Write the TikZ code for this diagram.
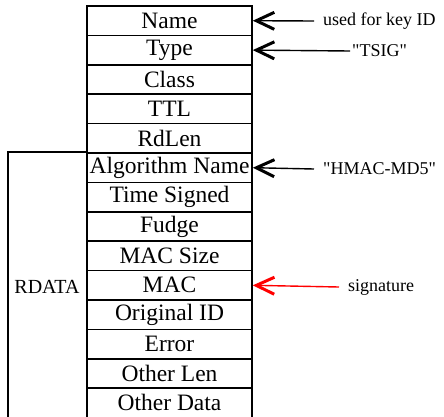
\documentclass[tikz,border=0pt]{standalone}
\usepackage{fontspec}
\setmainfont{Liberation Serif}
\usetikzlibrary{arrows.meta}
\tikzset{
    node distance=29.4pt, % height of one field row
    }

\begin{document}
\begin{tikzpicture}[x=1pt,y=1pt,
fieldnode/.style={rectangle, draw=black, line width=1.6pt, minimum width=165pt, minimum height=29.4pt, inner sep=0pt, font=\fontsize{23.5}{25}\selectfont},
notenode/.style={anchor=west, inner xsep=9pt, inner ysep=0pt, font=\fontsize{18}{20}\selectfont},
pointer/.style={line width=1.4pt, {Straight Barb[length=18pt,width=17pt,line width=3pt]}-},
]
\useasboundingbox (0,0) rectangle (444,-416);

% the record, one field per row
\node[fieldnode] (name) at (169.5,-20.7) {Name};
\node[fieldnode] (type) [below of=name] {Type};
\node[fieldnode] (class) [below of=type] {Class};
\node[fieldnode] (ttl) [below of=class] {TTL};
\node[fieldnode] (rdlen) [below of=ttl] {RdLen};
\node[fieldnode] (alg) [below of=rdlen] {Algorithm Name};
\node[fieldnode] (time) [below of=alg] {Time Signed};
\node[fieldnode] (fudge) [below of=time] {Fudge};
\node[fieldnode] (macsize) [below of=fudge] {MAC Size};
\node[fieldnode] (mac) [below of=macsize] {MAC};
\node[fieldnode] (origid) [below of=mac] {Original ID};
\node[fieldnode] (error) [below of=origid] {Error};
\node[fieldnode] (otherlen) [below of=error] {Other Len};
\node[fieldnode] (otherdata) [below of=otherlen] {Other Data};

% notes on the right
\node[notenode] (keyid) at (314,-21) {used for key ID};
\node[notenode, inner xsep=2pt] (tsig) at (350,-51) {\textquotedbl TSIG\textquotedbl};
\node[notenode] (hmac) at (314,-169) {\textquotedbl HMAC-MD5\textquotedbl};
\node[notenode] (sig) at (339,-287) {signature};

\draw[pointer] (name.east) -- (keyid.west);
\draw[pointer] (type.east) -- (tsig.west);
\draw[pointer] (alg.east) -- (hmac.west);
\draw[pointer, red] (mac.east) -- (sig.west);

% RDATA bracket
\coordinate (rdend) at (8,-420);
\draw[line width=1.5pt] (alg.north west) -| (rdend);
\node[font=\fontsize{20}{22}\selectfont] (rdata) at (47,-287) {RDATA};
\end{tikzpicture}
\end{document}
